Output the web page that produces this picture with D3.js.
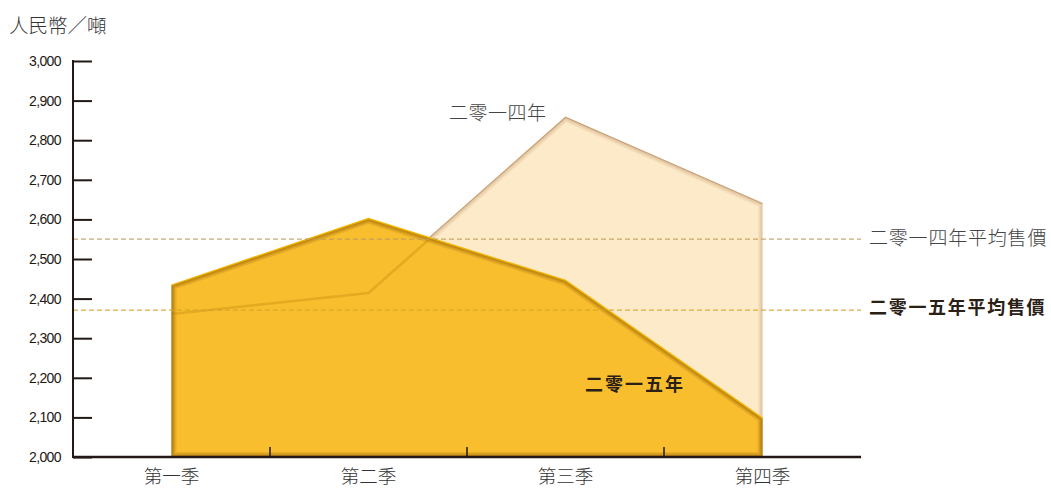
<!DOCTYPE html>
<html><head><meta charset="utf-8">
<script src="https://cdn.jsdelivr.net/npm/d3@7"></script>
<style>body{margin:0;background:#fff}svg{display:block}</style>
</head><body>
<svg id="c" width="1051" height="489"></svg>
<script>
const categories = ["第一季","第二季","第三季","第四季"];
const values2014 = [2365, 2418, 2858, 2640];
const values2015 = [2434, 2602, 2446, 2098];
const avg2014 = 2550;
const avg2015 = 2371;
const yTicks = [2000,2100,2200,2300,2400,2500,2600,2700,2800,2900,3000];
const seriesNames = ["二零一四年","二零一五年"];
const avgNames = ["二零一四年平均售價","二零一五年平均售價"];
const yTitle = "人民幣／噸";

const svg = d3.select("#c");
const x = d3.scaleBand().domain(categories).range([73, 861]).padding(0);
const y = d3.scaleLinear().domain([2000, 3000]).range([457, 61]);
const cx = d => x(d) + x.bandwidth()/2;

const defs = svg.append("defs");
const area = d3.area().x((d,i)=>cx(categories[i])).y0(y(2000)).y1(d=>y(d));
const line = d3.line().x((d,i)=>cx(categories[i])).y(d=>y(d));

function shadedArea(id, vals, fill, edge, widths, op){
  defs.append("clipPath").attr("id", id).append("path").datum(vals).attr("d", area);
  svg.append("path").datum(vals).attr("d", area).attr("fill", fill);
  const g = svg.append("g").attr("clip-path", `url(#${id})`);
  widths.forEach(w => {
    g.append("path").datum(vals).attr("d", area).attr("fill","none")
      .attr("stroke", edge).attr("stroke-width", w).attr("stroke-linejoin","round")
      .attr("opacity", op);
  });
}

shadedArea("c14", values2014, "#fdeac8", "#c9a37a", [9,6,4,2], 0.16);
svg.append("path").datum(values2014).attr("d", line)
  .attr("fill","none").attr("stroke","#c8a074").attr("stroke-width",1.1);

shadedArea("c15", values2015, "#f8be2d", "#8a5500", [10,7,5,3,1.5], 0.17);
// faint 2014 edge visible through 2015
svg.append("g").attr("clip-path","url(#c15)").append("path").datum(values2014).attr("d", line)
  .attr("fill","none").attr("stroke","#b67d05").attr("stroke-width",2.5).attr("opacity",0.3)
  .attr("transform","translate(0,1.5)");
svg.append("path").datum(values2015).attr("d", line)
  .attr("fill","none").attr("stroke","#f0b400").attr("stroke-width",1.4);

// average lines
svg.append("line").attr("x1",73).attr("x2",861).attr("y1",y(avg2014)).attr("y2",y(avg2014))
  .attr("stroke","#c29c5e").attr("stroke-width",1.2).attr("stroke-dasharray","5,3").attr("opacity",0.85);
svg.append("line").attr("x1",73).attr("x2",861).attr("y1",y(avg2015)).attr("y2",y(avg2015))
  .attr("stroke","#d3a22a").attr("stroke-width",1.2).attr("stroke-dasharray","5,3").attr("opacity",0.85);

// y axis
const ya = svg.append("g").attr("transform","translate(73,0)")
  .call(d3.axisRight(y).tickValues(yTicks).tickSize(19).tickFormat(""));
ya.select(".domain").attr("stroke","#231815").attr("stroke-width",2).attr("d","M0,60V458");
ya.selectAll(".tick line").attr("stroke","#231815").attr("stroke-width",2);
svg.append("g").selectAll("text").data(yTicks).join("text")
  .attr("x",61).attr("y",d=>y(d)+5).attr("text-anchor","end")
  .attr("font-family","Liberation Sans, Arial, sans-serif").attr("font-size",14)
  .attr("letter-spacing","-0.6").attr("fill","#231815")
  .text(d=>d3.format(",")(d));

// x axis
const xa = svg.append("g").attr("transform","translate(0,457)")
  .call(d3.axisTop(x).tickSize(0).tickFormat(""));
xa.select(".domain").attr("stroke","#231815").attr("stroke-width",2.5).attr("d","M73,0H861");
xa.selectAll(".tick").remove();
svg.append("g").selectAll("line").data(categories.slice(1)).join("line")
  .attr("x1",d=>x(d)).attr("x2",d=>x(d)).attr("y1",447).attr("y2",457)
  .attr("stroke","#231815").attr("stroke-width",1.5);
svg.append("g").selectAll("text").data(categories).join("text")
  .attr("x",d=>cx(d)).attr("y",483).attr("text-anchor","middle")
  .attr("font-family","Noto Sans CJK TC").attr("font-weight",300).attr("font-size",18.5)
  .attr("fill","#333").text(d=>d);

// titles and labels
svg.append("text").attr("x",9).attr("y",33).attr("font-family","Noto Sans CJK TC")
  .attr("font-weight",300).attr("font-size",19.5).attr("fill","#333").text(yTitle);
svg.append("text").attr("x",449).attr("y",120)
  .attr("font-family","Noto Sans CJK TC").attr("font-weight",300).attr("font-size",19)
  .attr("letter-spacing",0.5).attr("fill","#444").text(seriesNames[0]);
svg.append("text").attr("x",585).attr("y",391)
  .attr("font-family","Noto Sans CJK TC").attr("font-weight",700).attr("font-size",18)
  .attr("letter-spacing",2).attr("fill","#2a2015").text(seriesNames[1]);
svg.append("text").attr("x",869).attr("y",245)
  .attr("font-family","Noto Sans CJK TC").attr("font-weight",300).attr("font-size",19)
  .attr("letter-spacing",0.8).attr("fill","#444").text(avgNames[0]);
svg.append("text").attr("x",869).attr("y",314)
  .attr("font-family","Noto Sans CJK TC").attr("font-weight",700).attr("font-size",18)
  .attr("letter-spacing",1.7).attr("fill","#2a2015").text(avgNames[1]);
</script>
</body></html>
